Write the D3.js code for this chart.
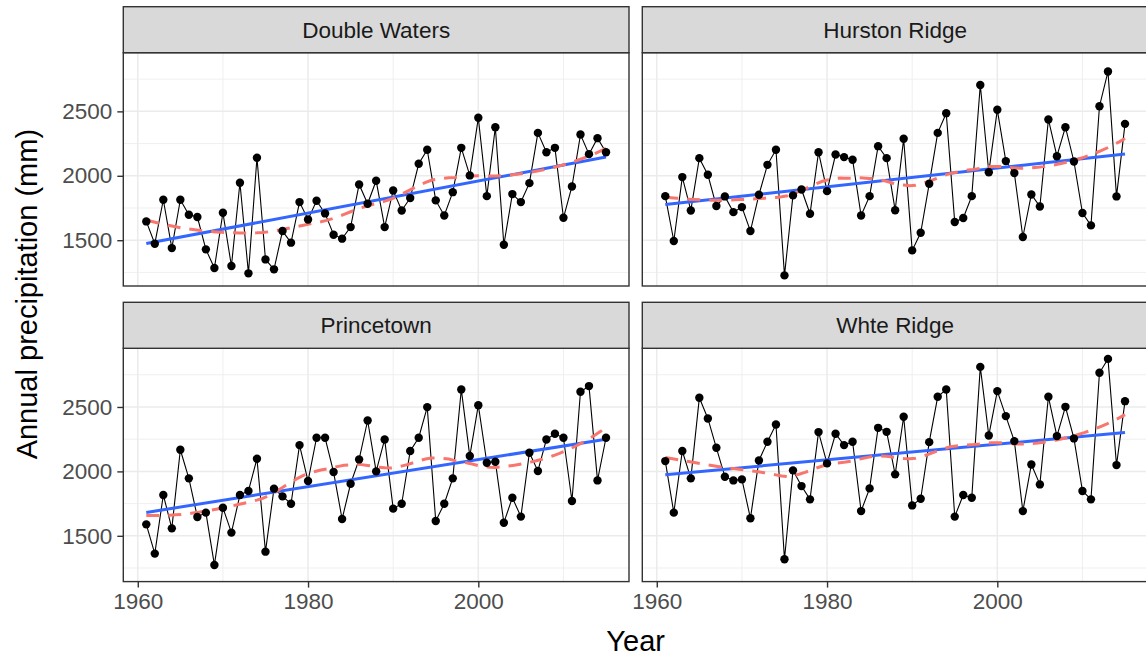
<!DOCTYPE html>
<html>
<head>
<meta charset="utf-8">
<script src="https://cdn.jsdelivr.net/npm/d3@7"></script>
<style>
  body { margin: 0; background: #fff; }
  svg { display: block; }
</style>
</head>
<body>
<div id="chart"></div>
<script>
/* Annual precipitation per station, faceted 2x2 (ggplot theme_bw look).
 * Black line + points = observed, blue = linear fit, red dashed = loess. */

var years = d3.range(1961, 2016);

var stations = ['Double Waters', 'Hurston Ridge', 'Princetown', 'Whte Ridge'];

var doubleWaters = [
  1646, 1473, 1814, 1439, 1814, 1698, 1680, 1429, 1284, 1713,
  1300, 1946, 1243, 2140, 1351, 1274, 1571, 1481, 1796, 1661,
  1806, 1708, 1543, 1512, 1602, 1933, 1783, 1962, 1602, 1886,
  1731, 1827, 2093, 2202, 1809, 1692, 1873, 2217, 2003, 2450,
  1842, 2377, 1465, 1858, 1796, 1943, 2333, 2183, 2217, 1674,
  1917, 2320, 2168, 2292, 2183
];

var hurstonRidge = [
  1842, 1494, 1990, 1731, 2137, 2008, 1765, 1840, 1718, 1757,
  1571, 1853, 2085, 2202, 1227, 1848, 1894, 1705, 2183, 1881,
  2165, 2145, 2125, 1692, 1842, 2230, 2137, 1733, 2287, 1421,
  1558, 1938, 2333, 2486, 1641, 1672, 1842, 2705, 2028, 2512,
  2114, 2021, 1525, 1855, 1762, 2437, 2152, 2377, 2111, 1711,
  1615, 2540, 2809, 1840, 2403
];

var princetown = [
  1589, 1362, 1817, 1558, 2168, 1946, 1646, 1680, 1274, 1718,
  1525, 1817, 1848, 2098, 1377, 1866, 1806, 1749, 2204, 1925,
  2261, 2261, 1995, 1630, 1904, 2093, 2395, 2000, 2248, 1711,
  1749, 2158, 2261, 2499, 1615, 1749, 1946, 2636, 2119, 2514,
  2067, 2075, 1602, 1796, 1649, 2145, 2003, 2248, 2292, 2261,
  1770, 2618, 2662, 1930, 2261
];

var whteRidge = [
  2080, 1680, 2158, 1946, 2571, 2411, 2183, 1959, 1930, 1938,
  1636, 2085, 2230, 2364, 1318, 2008, 1886, 1783, 2305, 2062,
  2292, 2204, 2230, 1692, 1868, 2338, 2307, 1977, 2424, 1736,
  1788, 2227, 2579, 2636, 1649, 1817, 1796, 2811, 2279, 2623,
  2429, 2235, 1692, 2054, 1899, 2579, 2274, 2501, 2256, 1848,
  1783, 2765, 2873, 2049, 2545
];

var seriesValues = [doubleWaters, hurstonRidge, princetown, whteRidge];

var xTicks = [1960, 1980, 2000];
var xMinor = [1970, 1990, 2010];
var yTicks = [1500, 2000, 2500];
var yMinor = [1250, 1750, 2250, 2750];

var LOESS_SPAN = 0.55;

var W = 1146, H = 659;
var PANEL_LEFT = [123.3, 642.3];
var PANEL_W = 505.7;
var STRIP_TOP = [6.7, 302.3];
var STRIP_H = 46;
var PANEL_H = 233.3;

var svg = d3.select('#chart').append('svg')
  .attr('width', W)
  .attr('height', H)
  .style('font-family', '"Liberation Sans", Arial, sans-serif');

// ggplot-style 5% expansion on shared scales
function expand(ext) {
  var pad = (ext[1] - ext[0]) * 0.05;
  return [ext[0] - pad, ext[1] + pad];
}
var allVals = d3.merge(seriesValues);
var xDomain = expand(d3.extent(years));
var yDomain = expand(d3.extent(allVals));

function linearFit(xs, ys) {
  var mx = d3.mean(xs), my = d3.mean(ys);
  var sxy = 0, sxx = 0;
  xs.forEach(function(x, i) {
    sxy += (x - mx) * (ys[i] - my);
    sxx += (x - mx) * (x - mx);
  });
  var b = sxy / sxx;
  return function(x) { return my + b * (x - mx); };
}

// local quadratic regression with tricube weights
function loess(xs, ys, span, evalX) {
  var n = xs.length;
  var q = Math.floor(n * span);
  return evalX.map(function(x0) {
    var dists = xs.map(function(x) { return Math.abs(x - x0); });
    var h = dists.slice().sort(function(a, b) { return a - b; })[q - 1];
    var S = [0, 0, 0, 0, 0], T = [0, 0, 0];
    for (var i = 0; i < n; i++) {
      var u = dists[i] / h;
      if (u >= 1) continue;
      var w = Math.pow(1 - u * u * u, 3);
      var dx = xs[i] - x0;
      var p = w;
      for (var k = 0; k < 5; k++) {
        S[k] += p;
        if (k < 3) T[k] += p * ys[i];
        p *= dx;
      }
    }
    // solve 3x3 normal equations, intercept is fit at x0
    var A = [[S[0], S[1], S[2], T[0]], [S[1], S[2], S[3], T[1]], [S[2], S[3], S[4], T[2]]];
    for (var c = 0; c < 3; c++) {
      for (var r = c + 1; r < 3; r++) {
        var f = A[r][c] / A[c][c];
        for (var k2 = c; k2 < 4; k2++) A[r][k2] -= f * A[c][k2];
      }
    }
    var sol = [0, 0, 0];
    for (var r2 = 2; r2 >= 0; r2--) {
      var s = A[r2][3];
      for (var k3 = r2 + 1; k3 < 3; k3++) s -= A[r2][k3] * sol[k3];
      sol[r2] = s / A[r2][r2];
    }
    return sol[0];
  });
}

stations.forEach(function(name, si) {
  var col = si % 2, row = Math.floor(si / 2);
  var left = PANEL_LEFT[col];
  var stripTop = STRIP_TOP[row];
  var top = stripTop + STRIP_H;
  var vals = seriesValues[si];

  var x = d3.scaleLinear().domain(xDomain).range([left, left + PANEL_W]);
  var y = d3.scaleLinear().domain(yDomain).range([top + PANEL_H, top]);

  var g = svg.append('g');

  g.append('rect')
    .attr('x', left).attr('y', top)
    .attr('width', PANEL_W).attr('height', PANEL_H)
    .attr('fill', '#fff');

  // grid
  g.selectAll('.xminor').data(xMinor).enter().append('line')
    .attr('x1', function(d) { return x(d); }).attr('x2', function(d) { return x(d); })
    .attr('y1', top).attr('y2', top + PANEL_H)
    .attr('stroke', '#ebebeb').attr('stroke-width', 0.8);
  g.selectAll('.yminor').data(yMinor).enter().append('line')
    .attr('y1', function(d) { return y(d); }).attr('y2', function(d) { return y(d); })
    .attr('x1', left).attr('x2', left + PANEL_W)
    .attr('stroke', '#ebebeb').attr('stroke-width', 0.8);
  g.selectAll('.xmajor').data(xTicks).enter().append('line')
    .attr('x1', function(d) { return x(d); }).attr('x2', function(d) { return x(d); })
    .attr('y1', top).attr('y2', top + PANEL_H)
    .attr('stroke', '#ebebeb').attr('stroke-width', 1.5);
  g.selectAll('.ymajor').data(yTicks).enter().append('line')
    .attr('y1', function(d) { return y(d); }).attr('y2', function(d) { return y(d); })
    .attr('x1', left).attr('x2', left + PANEL_W)
    .attr('stroke', '#ebebeb').attr('stroke-width', 1.5);

  var clipId = 'clip' + si;
  svg.append('clipPath').attr('id', clipId).append('rect')
    .attr('x', left).attr('y', top).attr('width', PANEL_W).attr('height', PANEL_H);
  var plot = g.append('g').attr('clip-path', 'url(#' + clipId + ')');

  var pts = years.map(function(yr, i) { return [yr, vals[i]]; });

  plot.append('path')
    .datum(pts)
    .attr('d', d3.line().x(function(d) { return x(d[0]); }).y(function(d) { return y(d[1]); }))
    .attr('fill', 'none')
    .attr('stroke', '#000')
    .attr('stroke-width', 1.1);

  var fit = linearFit(years, vals);
  var x0 = years[0], x1 = years[years.length - 1];
  plot.append('line')
    .attr('x1', x(x0)).attr('y1', y(fit(x0)))
    .attr('x2', x(x1)).attr('y2', y(fit(x1)))
    .attr('stroke', '#3366FF')
    .attr('stroke-width', 3);

  var evalX = d3.range(80).map(function(i) { return x0 + (x1 - x0) * i / 79; });
  var smooth = loess(years, vals, LOESS_SPAN, evalX);
  plot.append('path')
    .datum(evalX.map(function(v, i) { return [v, smooth[i]]; }))
    .attr('d', d3.line().x(function(d) { return x(d[0]); }).y(function(d) { return y(d[1]); }))
    .attr('fill', 'none')
    .attr('stroke', '#F8766D')
    .attr('stroke-width', 3)
    .attr('stroke-dasharray', '13,9');

  plot.selectAll('circle').data(pts).enter().append('circle')
    .attr('cx', function(d) { return x(d[0]); })
    .attr('cy', function(d) { return y(d[1]); })
    .attr('r', 4.2)
    .attr('fill', '#000');

  // panel border
  g.append('rect')
    .attr('x', left).attr('y', top)
    .attr('width', PANEL_W).attr('height', PANEL_H)
    .attr('fill', 'none').attr('stroke', '#333').attr('stroke-width', 1.4);

  // strip
  g.append('rect')
    .attr('x', left).attr('y', stripTop)
    .attr('width', PANEL_W).attr('height', STRIP_H)
    .attr('fill', '#d9d9d9').attr('stroke', '#333').attr('stroke-width', 1.4);
  g.append('text')
    .attr('x', left + PANEL_W / 2)
    .attr('y', stripTop + STRIP_H / 2)
    .attr('dy', '0.36em')
    .attr('text-anchor', 'middle')
    .attr('fill', '#1a1a1a')
    .attr('font-size', '22.5px')
    .text(name);

  // y axis on left column
  if (col === 0) {
    var ya = g.append('g')
      .attr('transform', 'translate(' + left + ',0)')
      .call(d3.axisLeft(y).tickValues(yTicks).tickSize(6).tickPadding(5).tickFormat(d3.format('d')));
    ya.select('.domain').remove();
    ya.selectAll('.tick line').attr('stroke', '#333').attr('stroke-width', 1.4);
    ya.selectAll('.tick text').attr('fill', '#4d4d4d').attr('font-size', '22.5px')
      .style('font-family', '"Liberation Sans", Arial, sans-serif');
  }
  // x axis on bottom row
  if (row === 1) {
    var xa = g.append('g')
      .attr('transform', 'translate(0,' + (top + PANEL_H) + ')')
      .call(d3.axisBottom(x).tickValues(xTicks).tickSize(6).tickPadding(5).tickFormat(d3.format('d')));
    xa.select('.domain').remove();
    xa.selectAll('.tick line').attr('stroke', '#333').attr('stroke-width', 1.4);
    xa.selectAll('.tick text').attr('fill', '#4d4d4d').attr('font-size', '22.5px')
      .style('font-family', '"Liberation Sans", Arial, sans-serif');
  }
});

svg.append('text')
  .attr('x', (PANEL_LEFT[0] + PANEL_LEFT[1] + PANEL_W) / 2)
  .attr('y', 651)
  .attr('text-anchor', 'middle')
  .attr('fill', '#000')
  .attr('font-size', '29px')
  .text('Year');

svg.append('text')
  .attr('transform', 'translate(37,' + ((STRIP_TOP[0] + STRIP_TOP[1] + STRIP_H + PANEL_H) / 2) + ') rotate(-90)')
  .attr('text-anchor', 'middle')
  .attr('fill', '#000')
  .attr('font-size', '29px')
  .text('Annual precipitation (mm)');
</script>
</body>
</html>
